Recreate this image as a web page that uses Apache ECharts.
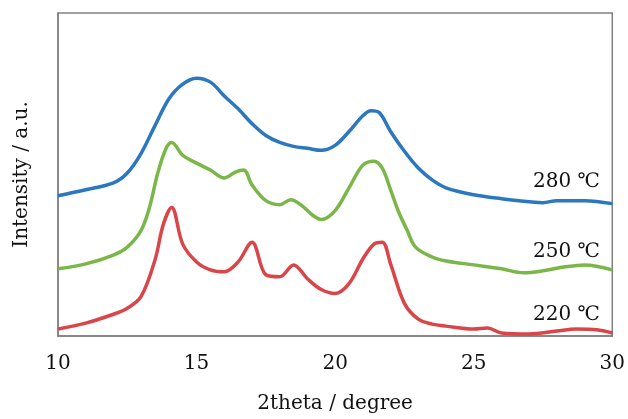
<!DOCTYPE html>
<html>
<head>
<meta charset="utf-8">
<script src="https://cdn.jsdelivr.net/npm/echarts@6/dist/echarts.min.js"></script>
<style>
html,body{margin:0;padding:0;background:#fff;}
#main{width:628px;height:419px;}
</style>
</head>
<body>
<div id="main"></div>
<script>
var chartDom = document.getElementById('main');
var myChart = echarts.init(chartDom);
var option;

// 280 C (blue)
var x280 = [10,11,12,12.5,13,13.5,14,14.5,15,15.5,16,16.5,17,17.5,18,18.5,19,19.5,20,20.5,21,21.3,21.6,22,22.5,23,23.5,24,25,26,27,27.5,28,29,30];
var y280 = [142,148,155,165,185,213,240,255,261,257,243,230,215,203,196,192,190,188,193,207,223,228,226,207,187,170,158,150,143,139,136,135,137,137,134];

// 250 C (green)
var x250 = [10,11,12,12.5,13,13.3,13.6,13.9,14.1,14.5,15,15.5,16,16.4,16.7,17,17.5,18,18.4,18.8,19.2,19.5,20,20.5,21,21.4,21.7,22,22.3,22.6,22.9,23.5,24,25,26,26.8,27.5,28.3,29,30];
var y250 = [68,73,82,90,107,130,165,190,196,183,175,168,160,166,168,153,137,133,138,132,122,118,127,150,173,177,170,148,125,107,90,80,76,72,68,64,66,70,72,67];

// 220 C (red)
var x220 = [10,11,12,12.5,13,13.5,13.8,14.1,14.5,15,15.5,16,16.5,17,17.5,18,18.5,19,19.5,20,20.5,21,21.4,21.7,22,22.5,23,23.5,24,25,25.5,26,27,28,28.7,29.5,30];
var y220 = [7,13,22,28,40,77,113,130,93,75,67,65,75,95,62,60,72,58,47,43,53,78,93,95,73,33,17,12,10,7,8,3,2,5,7,6,3];

var xTicks = [10,15,20,25,30];
var labels = ['280 \u2103','250 \u2103','220 \u2103'];

function pairs(xs, ys){
    var out = [];
    for(var i=0;i<xs.length;i++){
        out.push([xs[i], ys[i]]);
    }
    return out;
}

var font = 'DejaVu Serif';

function mkSeries(name, xs, ys, color){
    return {
        name: name,
        type: 'line',
        data: pairs(xs, ys),
        smooth: 0.35,
        showSymbol: false,
        lineStyle: { color: color, width: 3.5 },
        silent: true
    };
}

option = {
    animation: false,
    grid: {
        left: 58, right: 14, top: 13, bottom: 79,
        show: true, borderColor: '#808080', borderWidth: 1.5
    },
    xAxis: {
        type: 'value',
        min: 10, max: 30, interval: 5,
        name: '2theta / degree',
        nameLocation: 'middle',
        nameGap: 58,
        nameTextStyle: { fontFamily: font, fontSize: 20, color: '#111' },
        axisLine: { show: true, lineStyle: { color: '#808080', width: 1.5 } },
        axisTick: { show: false },
        splitLine: { show: false },
        axisLabel: {
            fontFamily: font, fontSize: 20, color: '#111', margin: 18,
            formatter: function(v){ return xTicks.indexOf(v) >= 0 ? String(v) : ''; }
        }
    },
    yAxis: {
        type: 'value',
        min: 0, max: 327,
        name: 'Intensity / a.u.',
        nameLocation: 'middle',
        nameGap: 26,
        nameTextStyle: { fontFamily: font, fontSize: 20, color: '#111' },
        axisLine: { show: true, lineStyle: { color: '#808080', width: 1.5 } },
        axisTick: { show: false },
        axisLabel: { show: false },
        splitLine: { show: false }
    },
    graphic: [
        { type: 'text', left: 533, top: 172, style: { text: labels[0], font: '20px "DejaVu Serif"', fill: '#111' } },
        { type: 'text', left: 533, top: 242, style: { text: labels[1], font: '20px "DejaVu Serif"', fill: '#111' } },
        { type: 'text', left: 533, top: 305, style: { text: labels[2], font: '20px "DejaVu Serif"', fill: '#111' } }
    ],
    series: [
        mkSeries('280', x280, y280, '#2b78bf'),
        mkSeries('250', x250, y250, '#7ab648'),
        mkSeries('220', x220, y220, '#d94548')
    ]
};
option && myChart.setOption(option);
</script>
</body>
</html>
